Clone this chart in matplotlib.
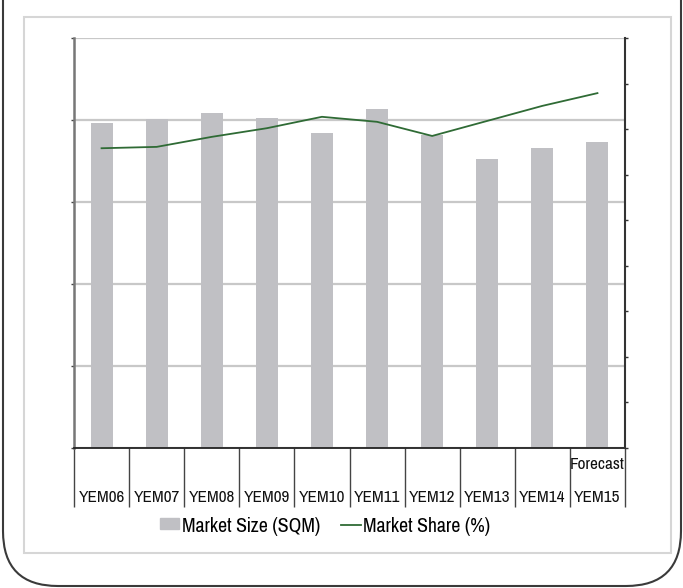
import numpy as np
import matplotlib.pyplot as plt
from matplotlib.patches import FancyBboxPatch, Rectangle, Patch
from matplotlib.lines import Line2D

plt.rcParams['font.family'] = ['Pragati Narrow', 'Archivo Narrow', 'DejaVu Sans']

# yearly data
years = ['YEM06', 'YEM07', 'YEM08', 'YEM09', 'YEM10',
         'YEM11', 'YEM12', 'YEM13', 'YEM14', 'YEM15']
market_size = [39.6, 40.1, 40.9, 40.2, 38.4, 41.3, 38.2, 35.2, 36.6, 37.3]
market_share = [6.58, 6.61, 6.83, 7.02, 7.27, 7.16, 6.85, 7.18, 7.51, 7.79]

bar_col = '#c0c0c4'
line_col = '#2f6b35'

fig = plt.figure(figsize=(6.83, 5.88), dpi=100)

# background layer in pixel units for the frames
bg = fig.add_axes([0, 0, 1, 1], zorder=0)
bg.set_xlim(0, 683)
bg.set_ylim(588, 0)
bg.axis('off')
bg.add_patch(Rectangle((24, 17), 647, 536, fill=False, ec='#d6d6d6', lw=1.5))
bg.add_patch(FancyBboxPatch((3, -60), 678, 646,
                            boxstyle='round,pad=0,rounding_size=55',
                            fill=False, ec='#3a3a3a', lw=1.5))

ax = fig.add_axes([74 / 683, 140 / 588, 551 / 683, 410 / 588], zorder=1)
ax.patch.set_alpha(0)
x = np.arange(len(years))
ax.bar(x, market_size, width=0.4, color=bar_col, zorder=2)
ax.set_xlim(-0.5, 9.5)
ax.set_ylim(0, 50)
ax.set_yticks(range(0, 51, 10))
ax.set_yticklabels([])
ax.yaxis.grid(True, color='#c8c8c8', lw=1.6)
ax.set_axisbelow(True)
ax.tick_params(axis='y', length=2.5, width=1, color='#444', direction='out')

# category separators hanging below the axis
ax.set_xticks(np.arange(-0.5, 10, 1))
ax.set_xticklabels([])
ax.tick_params(axis='x', length=42.5, width=1, color='#444', direction='out')

for s in ['top', 'right']:
    ax.spines[s].set_visible(False)
ax.spines['left'].set_color('#777')
ax.spines['left'].set_linewidth(1.8)
ax.spines['bottom'].set_color('#222')
ax.spines['bottom'].set_linewidth(1.3)

xt = ax.get_xaxis_transform()
for i, lab in enumerate(years):
    ax.text(i, -0.12, lab, transform=xt, ha='center', va='center',
            fontsize=13.5, color='#111')
ax.text(9, -0.041, 'Forecast', transform=xt, ha='center', va='center',
        fontsize=13.5, color='#111')

ax2 = ax.twinx()
ax2.plot(x, market_share, color=line_col, lw=1.3)
ax2.set_ylim(0, 9)
ax2.set_yticks(range(10))
ax2.set_yticklabels([])
ax2.tick_params(axis='y', length=2.5, width=1, color='#333', direction='out')
for s in ['top', 'left', 'bottom']:
    ax2.spines[s].set_visible(False)
ax2.spines['right'].set_color('#333')
ax2.spines['right'].set_linewidth(1.5)

handles = [Patch(color=bar_col), Line2D([], [], color=line_col, lw=1.3)]
fig.legend(handles, ['Market Size (SQM)', 'Market Share (%)'],
           loc='center', bbox_to_anchor=(325 / 683, 1 - 526 / 588),
           ncol=2, frameon=False, fontsize=15.5, handlelength=0.9,
           handleheight=0.4, handletextpad=0.1, columnspacing=1.0)

fig.savefig('out.png', dpi=100)
